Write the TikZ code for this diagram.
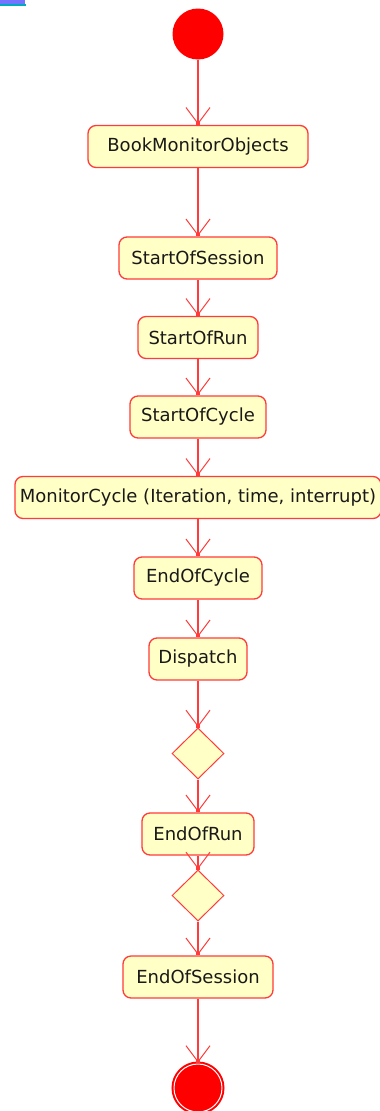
\documentclass[tikz,border=0pt]{standalone}
\usepackage{fontspec}
\setmainfont{DejaVu Sans}
\usetikzlibrary{shapes.geometric,arrows.meta}
\definecolor{umlred}{HTML}{FF3B3B}
\definecolor{umlfill}{HTML}{FFFFC6}
\begin{document}
\begin{tikzpicture}[
	x=1pt, y=-1pt,
	font=\fontsize{18}{20}\selectfont,
	flow/.style={draw=umlred, line width=1.4pt, -{Straight Barb[length=16pt,width=24pt,line width=1pt,sep=-3pt]Square[length=3.5pt,width=3.5pt]}},
	act/.style={rectangle, rounded corners=8pt, draw=umlred, line width=1.3pt, fill=umlfill, text=black!90, minimum height=42pt, inner sep=0pt},
	decision/.style={diamond, draw=umlred, line width=1pt, fill=umlfill, minimum width=52pt, minimum height=51pt, inner sep=0pt}
]
\useasboundingbox (0,0) rectangle (380,1111);
% corner fragment
\fill[blue!55!white] (0,0) rectangle (25,4);
\fill[cyan!70!green] (0,4) rectangle (26,6);

\node[circle, fill=red, minimum size=51pt, inner sep=0pt] (init) at (198,34) {};
\node[act, minimum width=220pt] (book) at (198,146.5) {BookMonitorObjects};
\node[act, minimum width=158pt] (sos) at (198,258) {StartOfSession};
\node[act, minimum width=120pt] (sor) at (198,337.5) {StartOfRun};
\node[act, minimum width=136pt] (soc) at (198,417) {StartOfCycle};
\node[act, minimum width=366pt] (cycle) at (198,497.5) {MonitorCycle (Iteration, time, interrupt)};
\node[act, minimum width=128pt] (eoc) at (198,578) {EndOfCycle};
\node[act, minimum width=98pt] (disp) at (198,659) {Dispatch};
\node[decision] (dec1) at (198,753.5) {};
\node[act, minimum width=112pt] (eor) at (198,834) {EndOfRun};
\node[decision] (dec2) at (198,895.5) {};
\node[act, minimum width=150pt] (eos) at (198,977) {EndOfSession};
\node[circle, fill=red, draw=red, line width=2pt, double=white, double distance=1pt, minimum size=48pt, inner sep=0pt] (final) at (198,1088) {};

\draw[flow] (init) -- (book);
\draw[flow] (book) -- (sos);
\draw[flow] (sos) -- (sor);
\draw[flow] (sor) -- (soc);
\draw[flow] (soc) -- (cycle);
\draw[flow] (cycle) -- (eoc);
\draw[flow] (eoc) -- (disp);
\draw[flow] (disp) -- (dec1);
\draw[flow] (dec1) -- (eor);
\draw[flow] (eor) -- (dec2);
\draw[flow] (dec2) -- (eos);
\draw[flow] (eos) -- (final);
\end{tikzpicture}
\end{document}
